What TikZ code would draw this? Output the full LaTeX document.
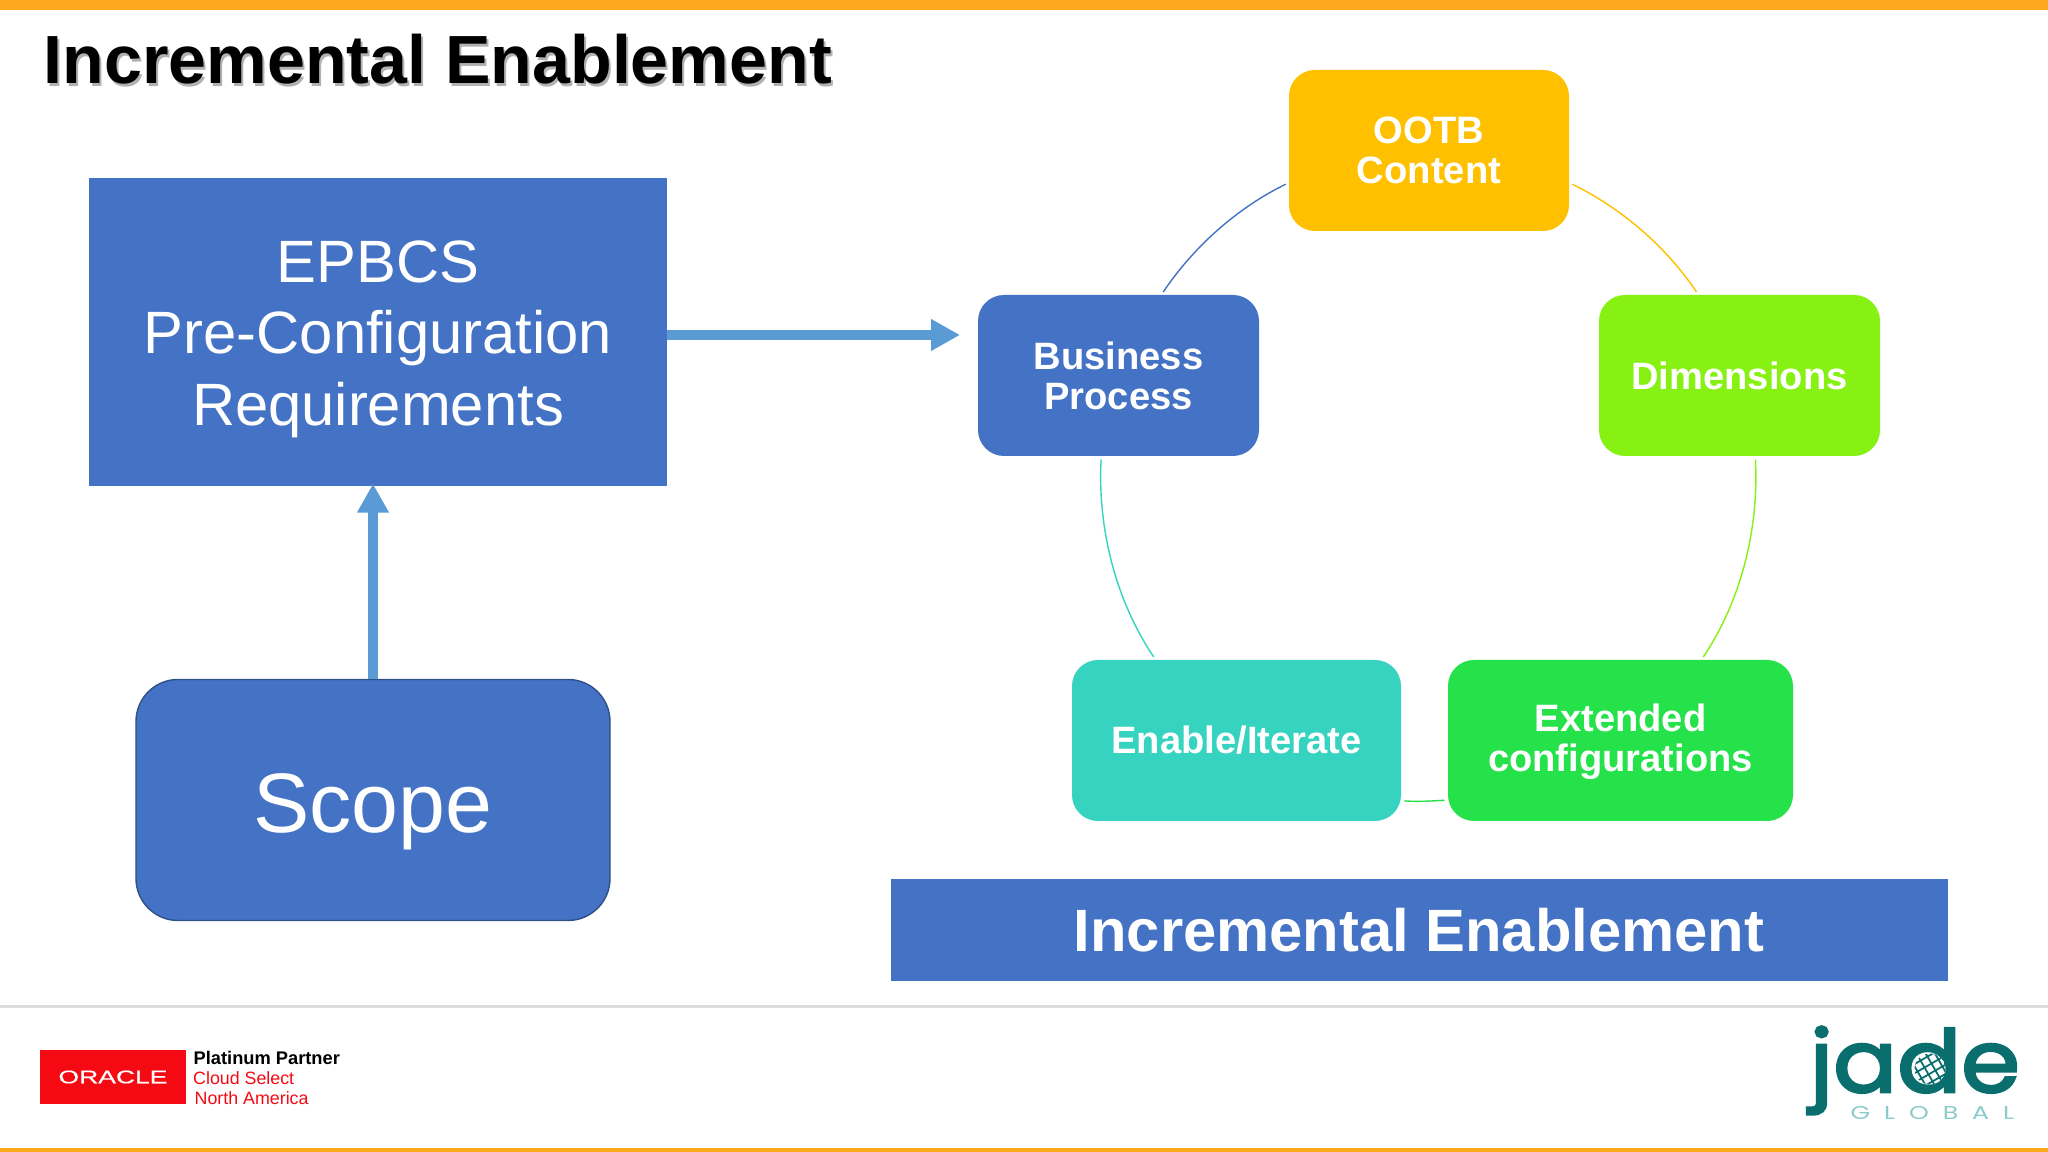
\documentclass[tikz,border=0pt]{standalone}
\usepackage{fontspec}
\setmainfont{Liberation Sans}
\newfontfamily\jadefont{Poppins}[FakeStretch=1.1,FakeBold=3]
\newfontfamily\oraclefont{Liberation Sans}[FakeStretch=1.45,FakeBold=0.5]
\newfontfamily\globalfont{Poppins}[FakeStretch=1.35,LetterSpace=75]
\usetikzlibrary{arrows.meta}

\definecolor{slideblue}{HTML}{4472C4}
\definecolor{arrowblue}{HTML}{5B9BD5}
\definecolor{barorange}{HTML}{FBA81F}
\definecolor{ootbyellow}{HTML}{FFC000}
\definecolor{dimlime}{HTML}{86F112}
\definecolor{extgreen}{HTML}{25E24B}
\definecolor{enableteal}{HTML}{36D3C0}
\definecolor{oraclered}{HTML}{F50A14}
\definecolor{jadeteal}{HTML}{0B6E6E}
\definecolor{globalteal}{HTML}{8CCBCB}

\tikzset{
    bigbox/.style={fill=slideblue, text=white, align=center, inner sep=0pt},
    stage/.style={rounded corners=0.26cm, text=white, align=center, inner sep=0pt,
        minimum height=1.61cm, font=\fontsize{10.85}{11.4}\selectfont\bfseries},
    flow/.style={arrowblue, line width=2.6pt, -{Triangle[length=0.29cm,width=0.3cm]}},
    ring/.style={line width=0.4pt, looseness=0.87, shorten <=0.8pt, shorten >=0.8pt},
    logotext/.style={anchor=base west, inner sep=0pt}
}

\begin{document}
\begin{tikzpicture}
    \useasboundingbox (0,0) rectangle (20.48,11.52);
    \fill[white] (0,0) rectangle (20.48,11.52);

    % Orange bars and grey rule
    \fill[barorange] (0,11.42) rectangle (20.48,11.52);
    \fill[barorange] (0,0) rectangle (20.48,0.04);
    \fill[black!14] (0,1.44) rectangle (20.48,1.47);

    % Slide title with its soft shadow
    \node[anchor=base west, inner sep=0pt, text=black!30, font=\fontsize{19.4}{20}\selectfont\bfseries] (titleshade) at (0.45,10.655) {Incremental Enablement};
    \node[anchor=base west, inner sep=0pt, font=\fontsize{19.4}{20}\selectfont\bfseries] (title) at (0.43,10.68) {Incremental Enablement};

    % Left column
    \node[bigbox, minimum width=5.77cm, minimum height=3.08cm, font=\fontsize{17}{20.4}\selectfont] (epbcs) at (3.78,8.20)
        {\rule{0pt}{15.9pt}EPBCS\\Pre-Configuration\\Requirements};
    \node[bigbox, draw=slideblue!70!black, rounded corners=0.42cm, minimum width=4.74cm, minimum height=2.41cm, font=\fontsize{24}{26}\selectfont] (scope) at (3.73,3.52) {\rule{0pt}{23.3pt}Scope};
    \draw[flow, shorten >=-0.03cm] (scope.north) -- (scope.north |- epbcs.south);
    \coordinate (flowend) at (9.60,8.17);
    \draw[flow] (epbcs.east |- flowend) -- (flowend);

    % Cycle of steps
    \node[stage, fill=ootbyellow, minimum width=2.80cm] (ootb) at (14.29,10.015) {OOTB\\Content};
    \node[stage, fill=slideblue, minimum width=2.81cm] (process) at (11.185,7.765) {Business\\Process};
    \node[stage, fill=dimlime, minimum width=2.81cm] (dims) at (17.395,7.765) {Dimensions};
    \node[stage, fill=extgreen, minimum width=3.45cm] (extended) at (16.205,4.115) {\rule{0pt}{8.8pt}Extended\\configurations};
    \node[stage, fill=enableteal, minimum width=3.29cm] (enable) at (12.365,4.115) {Enable/Iterate};

    % Thin arcs between the steps
    \draw[ring, slideblue] (process.62.6) to[out=56, in=206] (ootb.193);
    \draw[ring, ootbyellow] (ootb.-13) to[out=-26, in=124] (dims.117);
    \draw[ring, dimlime] (dims.-79) to[out=-87, in=56] (extended.45);
    \draw[ring, extgreen] (extended.199.6) to[out=183, in=-5] (enable.-20.5);
    \draw[ring, enableteal] (enable.135) to[out=124, in=267] (process.258);

    % Banner under the cycle
    \node[bigbox, minimum width=10.57cm, minimum height=1.02cm, font=\fontsize{17}{20}\selectfont\bfseries] (banner) at (14.19,2.216) {Incremental Enablement};

    % Partner logo
    \node[fill=oraclered, text=white, minimum width=1.46cm, minimum height=0.54cm, inner sep=0pt,
        font=\oraclefont\fontsize{5.2}{6}\selectfont] (oracle) at (1.13,0.75) {ORACLE};
    \node[logotext, font=\fontsize{5.2}{6}\selectfont\bfseries] (platinum) at (1.93,0.877) {Platinum Partner};
    \node[logotext, text=oraclered, font=\fontsize{5.07}{6}\selectfont] (cloud) at (1.925,0.677) {Cloud Select};
    \node[logotext, text=oraclered, font=\fontsize{5.07}{6}\selectfont] (north) at (1.94,0.477) {North America};

    % Jade logo
    \node[logotext, text=jadeteal, font=\jadefont\fontsize{24.5}{26}\selectfont] (jade) at (18.09,0.60) {jade};
    \begin{scope}
        \clip (19.30,0.83) circle (0.155);
        \fill[white] (19.30,0.83) circle (0.155);
        \foreach \off in {-0.12,-0.04,0.04,0.12} {
            \draw[jadeteal, line width=0.5pt, rotate around={30:(19.30,0.83)}] (19.30+\off,0.60) -- (19.30+\off,1.06);
            \draw[jadeteal, line width=0.5pt, rotate around={30:(19.30,0.83)}] (19.10,0.83+\off) -- (19.50,0.83+\off);
        }
    \end{scope}
    \node[logotext, text=globalteal, font=\globalfont\fontsize{5.3}{6}\selectfont] (global) at (18.50,0.32) {GLOBAL};
\end{tikzpicture}
\end{document}
